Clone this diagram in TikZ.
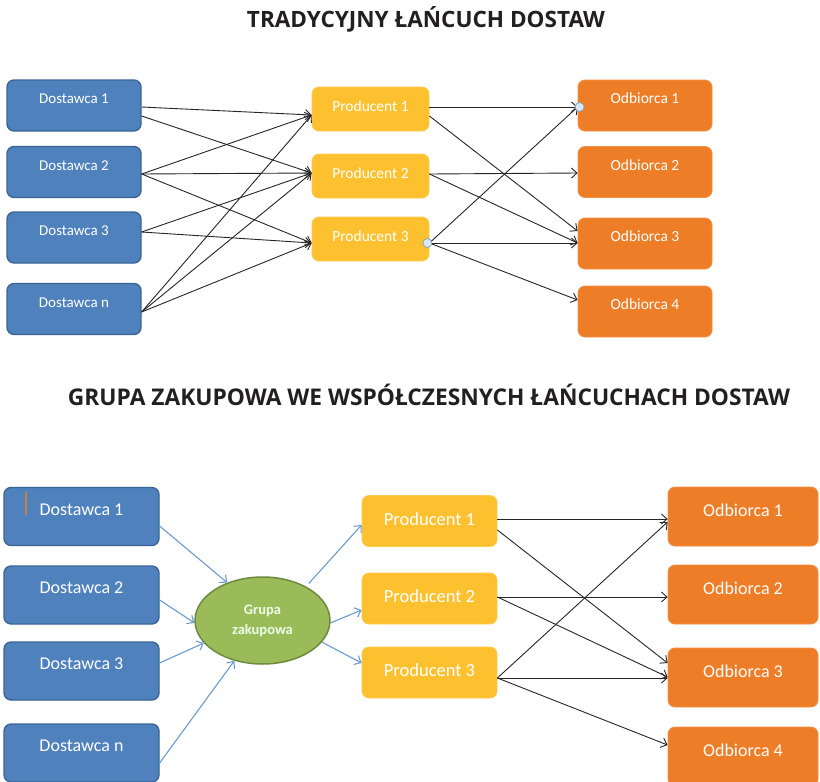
\documentclass[tikz,border=0pt]{standalone}
\usepackage{fontspec}
\setmainfont{Carlito}
\newfontfamily\titlefont{Open Sans}
\usetikzlibrary{shapes.geometric,arrows.meta}

\definecolor{supfill}{HTML}{4F81BD}
\definecolor{supedge}{HTML}{3B6496}
\definecolor{prodfill}{HTML}{FDC12F}
\definecolor{odbfill}{HTML}{EE7D27}
\definecolor{grpfill}{HTML}{9BBB59}
\definecolor{grpedge}{HTML}{6E8B3D}
\definecolor{flowblue}{HTML}{6C9AD0}
\definecolor{titlegray}{HTML}{231F20}
\definecolor{jointfill}{HTML}{D9E8F5}
\definecolor{jointedge}{HTML}{7FA0BF}
\definecolor{cursor}{HTML}{C8803E}

\tikzset{
  card/.style={rounded corners=7pt, inner sep=0pt, text=white, align=center},
  supbox/.style={card, fill=supfill, draw=supedge, line width=1.3pt},
  prodbox/.style={card, fill=prodfill, draw=prodfill!85!white, line width=0.8pt},
  odbbox/.style={card, fill=odbfill, draw=odbfill!85!white, line width=0.8pt},
  % first diagram: smaller boxes
  supT/.style={supbox, minimum width=134pt, minimum height=51pt,
    font=\fontsize{15}{18}\selectfont, text height=8pt, text depth=11.5pt},
  prodT/.style={prodbox, minimum width=117pt, minimum height=44pt,
    font=\fontsize{15.5}{18}\selectfont, text height=10pt, text depth=5pt},
  odbT/.style={odbbox, minimum width=134pt, minimum height=51pt,
    font=\fontsize{15.5}{18}\selectfont, text height=8pt, text depth=11.5pt},
  % second diagram: larger boxes
  supB/.style={supbox, minimum width=155pt, minimum height=58pt,
    font=\fontsize{18}{21}\selectfont, text height=9pt, text depth=11.5pt},
  prodB/.style={prodbox, minimum width=135pt, minimum height=51pt,
    font=\fontsize{18.5}{21}\selectfont, text height=11pt, text depth=3pt},
  odbB/.style={odbbox, minimum width=150pt, minimum height=59pt,
    font=\fontsize{18}{21}\selectfont, text height=9.5pt, text depth=9.5pt},
  group/.style={ellipse, fill=grpfill, draw=grpedge, line width=1.5pt,
    minimum width=135pt, minimum height=87pt, inner sep=0pt, align=center,
    text=white!92!green, font=\bfseries\fontsize{14.5}{20}\selectfont},
  heading/.style={anchor=base, inner sep=0pt, text=titlegray},
  flow/.style={draw=black!85, line width=0.9pt,
    -{Straight Barb[length=5.5pt,width=10pt]}},
  feed/.style={draw=flowblue, line width=1.1pt,
    -{Straight Barb[length=5.5pt,width=10pt]}},
  joint/.style={circle, fill=jointfill, draw=jointedge, line width=0.7pt,
    minimum size=9pt, inner sep=0pt}
}

\begin{document}
\begin{tikzpicture}[x=1pt, y=-1pt]
\useasboundingbox[fill=white] (0,0) rectangle (820,782);

% ---------- headings ----------
\node[heading] (h1) at (426,27)
  {\titlefont\bfseries\fontsize{22.5}{24}\selectfont\resizebox{358pt}{\height}{TRADYCYJNY ŁAŃCUCH DOSTAW}};
\node[heading] (h2) at (429,405)
  {\titlefont\bfseries\fontsize{23}{25}\selectfont\resizebox{722pt}{\height}{GRUPA ZAKUPOWA WE WSPÓŁCZESNYCH ŁAŃCUCHACH DOSTAW}};

% ---------- traditional chain ----------
\node[supT] (d1t) at (74,105.5) {Dostawca 1};
\node[supT] (d2t) at (74,172)   {Dostawca 2};
\node[supT] (d3t) at (74,237.5) {Dostawca 3};
\node[supT] (dnt) at (74,309)   {Dostawca n};

\node[prodT] (p1t) at (370.5,109) {Producent 1};
\node[prodT] (p2t) at (370.5,176) {Producent 2};
\node[prodT] (p3t) at (370.5,239) {Producent 3};

\node[odbT] (o1t) at (645,105.5) {Odbiorca 1};
\node[odbT] (o2t) at (645,172)   {Odbiorca 2};
\node[odbT] (o3t) at (645,243.5) {Odbiorca 3};
\node[odbT] (o4t) at (645,311.5) {Odbiorca 4};

% suppliers -> producers
\draw[flow] ([yshift=-1.5pt]d1t.east) -- ([yshift=-6pt]p1t.west);
\draw[flow] ([yshift=-10.5pt]d1t.east) -- ([yshift=3pt]p2t.west);
\draw[flow] ([yshift=-2pt]d2t.east) -- ([yshift=-6pt]p1t.west);
\draw[flow] ([yshift=-2pt]d2t.east) -- ([yshift=3pt]p2t.west);
\draw[flow] ([yshift=-2pt]d2t.east) -- ([yshift=-4pt]p3t.west);
\draw[flow] ([yshift=5.5pt]d3t.east) -- ([yshift=3pt]p2t.west);
\draw[flow] ([yshift=5.5pt]d3t.east) -- ([yshift=-4pt]p3t.west);
\draw[flow] ([yshift=-3pt]dnt.east) -- ([yshift=-6pt]p1t.west);
\draw[flow] ([yshift=-3pt]dnt.east) -- ([yshift=3pt]p2t.west);
\draw[flow] ([yshift=-3pt]dnt.east) -- ([yshift=-4pt]p3t.west);

% producers -> customers
\draw[flow] ([yshift=2pt]p1t.east) -- ([yshift=-1.5pt]o1t.west);
\draw[flow] ([yshift=-7pt]p1t.east) -- ([yshift=12.5pt]o3t.west);
\draw[flow] ([yshift=2pt]p2t.east) -- ([yshift=-1pt]o2t.west);
\draw[flow] ([yshift=2pt]p2t.east) -- ([yshift=0.5pt]o3t.west);
\draw[flow] ([yshift=-4pt]p3t.east) -- ([yshift=-1.5pt]o1t.west);
\draw[flow] ([yshift=-4pt]p3t.east) -- ([yshift=0.5pt]o3t.west);
\draw[flow] ([yshift=-4pt]p3t.east) -- ([yshift=11.5pt]o4t.west);

% connection points
\node[joint] (j1) at ([xshift=-2pt,yshift=-4pt]p3t.east) {};
\node[joint] (j2) at ([xshift=2pt,yshift=-1.5pt]o1t.west) {};

% ---------- chain with a purchasing group ----------
\node[supB] (d1b) at (81.5,516.5) {Dostawca 1};
\node[supB] (d2b) at (81.5,595)   {Dostawca 2};
\node[supB] (d3b) at (81.5,671)   {Dostawca 3};
\node[supB] (dnb) at (81.5,753)   {Dostawca n};
\draw[cursor, line width=1.8pt] (26,492) -- (26,515);

\node[group] (grp) at (262.5,620.5) {Grupa\\zakupowa};

\node[prodB] (p1b) at (429.5,521)   {Producent 1};
\node[prodB] (p2b) at (429.5,598.5) {Producent 2};
\node[prodB] (p3b) at (429.5,672.5) {Producent 3};

\node[odbB] (o1b) at (743,516.5) {Odbiorca 1};
\node[odbB] (o2b) at (743,594.5) {Odbiorca 2};
\node[odbB] (o3b) at (743,677.5) {Odbiorca 3};
\node[odbB] (o4b) at (743,756.5) {Odbiorca 4};

% suppliers -> group
\draw[feed] ([yshift=-9.5pt]d1b.east) -- (grp.133.6);
\draw[feed] ([yshift=-5pt]d2b.east) -- (grp.182);
\draw[feed] ([yshift=8pt]d3b.east) -- (grp.201);
\draw[feed] ([yshift=-10pt]dnb.east) -- (grp.235);

% group -> producers
\draw[feed, shorten <=4pt] (grp.38.7) -- ([yshift=-4pt]p1b.west);
\draw[feed] (grp.-2) -- ([yshift=-11.5pt]p2b.west);
\draw[feed] (grp.-20.7) -- ([yshift=9.5pt]p3b.west);

% producers -> customers
\draw[flow] ([yshift=2pt]p1b.east) -- ([yshift=-2.5pt]o1b.west);
\draw[flow] ([yshift=-9pt]p1b.east) -- ([yshift=14.5pt]o3b.west);
\draw[flow] ([yshift=1.5pt]p2b.east) -- ([yshift=-2.5pt]o2b.west);
\draw[flow] ([yshift=1.5pt]p2b.east) -- ([yshift=0.5pt]o3b.west);
\draw[flow] ([yshift=-5.5pt]p3b.east) -- ([yshift=-5.5pt]o1b.west);
\draw[flow] ([yshift=-5.5pt]p3b.east) -- ([yshift=-0.5pt]o3b.west);
\draw[flow] ([yshift=-5.5pt]p3b.east) -- ([yshift=11.5pt]o4b.west);
\end{tikzpicture}
\end{document}
